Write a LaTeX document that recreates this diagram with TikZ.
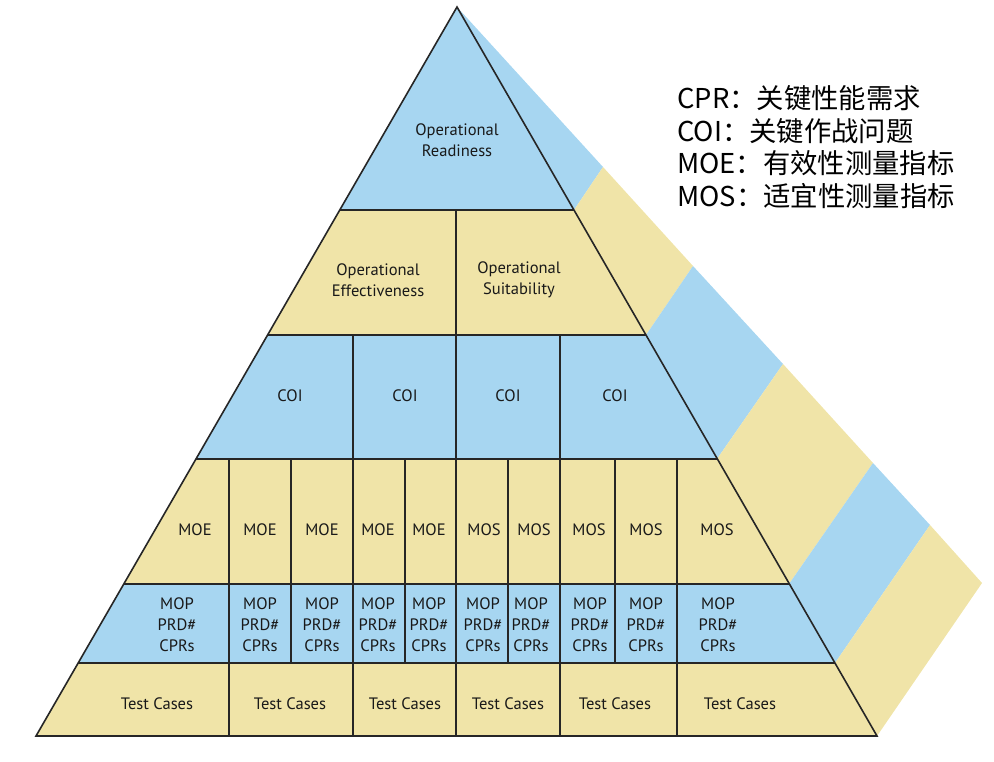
\documentclass[tikz,border=0pt]{standalone}
\usepackage{fontspec}
\setmainfont{PT Sans}
\newfontfamily\cjk{Noto Sans CJK SC}
\definecolor{blau}{RGB}{167,214,241}
\definecolor{gelb}{RGB}{240,228,168}
\begin{document}
\begin{tikzpicture}[x=0.75pt, y=-0.75pt,
		linie/.style={line width=1.2pt, black!85},
		beschr/.style={font=\fontsize{12.4}{15.75}\selectfont, text=black!90, align=center, inner sep=0pt},
		legende/.style={font=\cjk\fontsize{20.5}{24.5}\selectfont, anchor=west, inner sep=0pt}]
		\useasboundingbox (0,0) rectangle (994,761);
		
		% zeichne Seitenflaeche
		\fill[blau] (457,7) -- (603,167) -- (574,210) -- cycle;
		\fill[gelb] (574,210) -- (603,167) -- (693,266) -- (646,335) -- cycle;
		\fill[blau] (646,335) -- (693,266) -- (783,364) -- (717,459) -- cycle;
		\fill[gelb] (717,459) -- (783,364) -- (873,463) -- (789,584) -- cycle;
		\fill[blau] (789,584) -- (873,463) -- (930,525) -- (835,663) -- cycle;
		\fill[gelb] (835,663) -- (930,525) -- (982,583) -- (877,736) -- cycle;
		
		% zeichne Ebenen der Vorderseite
		\fill[blau] (457,7) -- (574,210) -- (340,210) -- cycle;
		\fill[gelb] (340,210) -- (574,210) -- (646,335) -- (268,335) -- cycle;
		\fill[blau] (268,335) -- (646,335) -- (717,459) -- (196,459) -- cycle;
		\fill[gelb] (196,459) -- (717,459) -- (789,584) -- (124,584) -- cycle;
		\fill[blau] (124,584) -- (789,584) -- (835,663) -- (78,663) -- cycle;
		\fill[gelb] (78,663) -- (835,663) -- (877,736) -- (36,736) -- cycle;
		
		% zeichne Umriss und Trennlinien
		\draw[linie, line join=miter] (457,7) -- (877,736) -- (36,736) -- cycle;
		\draw[linie] (340,210) -- (574,210);
		\draw[linie] (268,335) -- (646,335);
		\draw[linie] (196,459) -- (717,459);
		\draw[linie] (124,584) -- (789,584);
		\draw[linie] (78,663) -- (835,663);
		\draw[linie] (456,210) -- (456,335);
		\draw[linie] (353,335) -- (353,459);
		\draw[linie] (456,335) -- (456,459);
		\draw[linie] (560,335) -- (560,459);
		\draw[linie] (229,459) -- (229,663);
		\draw[linie] (291,459) -- (291,663);
		\draw[linie] (353,459) -- (353,663);
		\draw[linie] (405,459) -- (405,663);
		\draw[linie] (456,459) -- (456,663);
		\draw[linie] (508,459) -- (508,663);
		\draw[linie] (560,459) -- (560,663);
		\draw[linie] (615,459) -- (615,663);
		\draw[linie] (677,459) -- (677,663);
		\draw[linie] (229,663) -- (229,736);
		\draw[linie] (353,663) -- (353,736);
		\draw[linie] (456,663) -- (456,736);
		\draw[linie] (560,663) -- (560,736);
		\draw[linie] (677,663) -- (677,736);
		
		% zeichne Labels
		\node[beschr] (readiness) at (457,140) {Operational\\Readiness};
		\node[beschr] (effect) at (378,280) {Operational\\Effectiveness};
		\node[beschr] (suit) at (519,280) {Operational\\Suitability};
		
		\node[beschr] (coi1) at (290,396) {COI};
		\node[beschr] (coi2) at (405,396) {COI};
		\node[beschr] (coi3) at (508,396) {COI};
		\node[beschr] (coi4) at (615,396) {COI};
		
		\node[beschr] (moe1) at (195,530) {MOE};
		\node[beschr] (moe2) at (260,530) {MOE};
		\node[beschr] (moe3) at (322,530) {MOE};
		\node[beschr] (moe4) at (378,530) {MOE};
		\node[beschr] (moe5) at (429,530) {MOE};
		\node[beschr] (mos1) at (484,530) {MOS};
		\node[beschr] (mos2) at (534,530) {MOS};
		\node[beschr] (mos3) at (589,530) {MOS};
		\node[beschr] (mos4) at (646,530) {MOS};
		\node[beschr] (mos5) at (717,530) {MOS};
		
		\node[beschr] (mop1) at (177,625) {MOP\\PRD\#\\CPRs};
		\node[beschr] (mop2) at (260,625) {MOP\\PRD\#\\CPRs};
		\node[beschr] (mop3) at (322,625) {MOP\\PRD\#\\CPRs};
		\node[beschr] (mop4) at (378,625) {MOP\\PRD\#\\CPRs};
		\node[beschr] (mop5) at (429,625) {MOP\\PRD\#\\CPRs};
		\node[beschr] (mop6) at (483,625) {MOP\\PRD\#\\CPRs};
		\node[beschr] (mop7) at (531,625) {MOP\\PRD\#\\CPRs};
		\node[beschr] (mop8) at (590,625) {MOP\\PRD\#\\CPRs};
		\node[beschr] (mop9) at (646,625) {MOP\\PRD\#\\CPRs};
		\node[beschr] (mop10) at (718,625) {MOP\\PRD\#\\CPRs};
		
		\node[beschr] (test1) at (157,704) {Test Cases};
		\node[beschr] (test2) at (290,704) {Test Cases};
		\node[beschr] (test3) at (405,704) {Test Cases};
		\node[beschr] (test4) at (508,704) {Test Cases};
		\node[beschr] (test5) at (615,704) {Test Cases};
		\node[beschr] (test6) at (740,704) {Test Cases};
		
		% Legende
		\node[legende] (cpr) at (677,98) {CPR：关键性能需求};
		\node[legende] (coi) at (677,131) {COI：关键作战问题};
		\node[legende] (moe) at (677,163) {MOE：有效性测量指标};
		\node[legende] (mos) at (677,196) {MOS：适宜性测量指标};
	\end{tikzpicture}
\end{document}
